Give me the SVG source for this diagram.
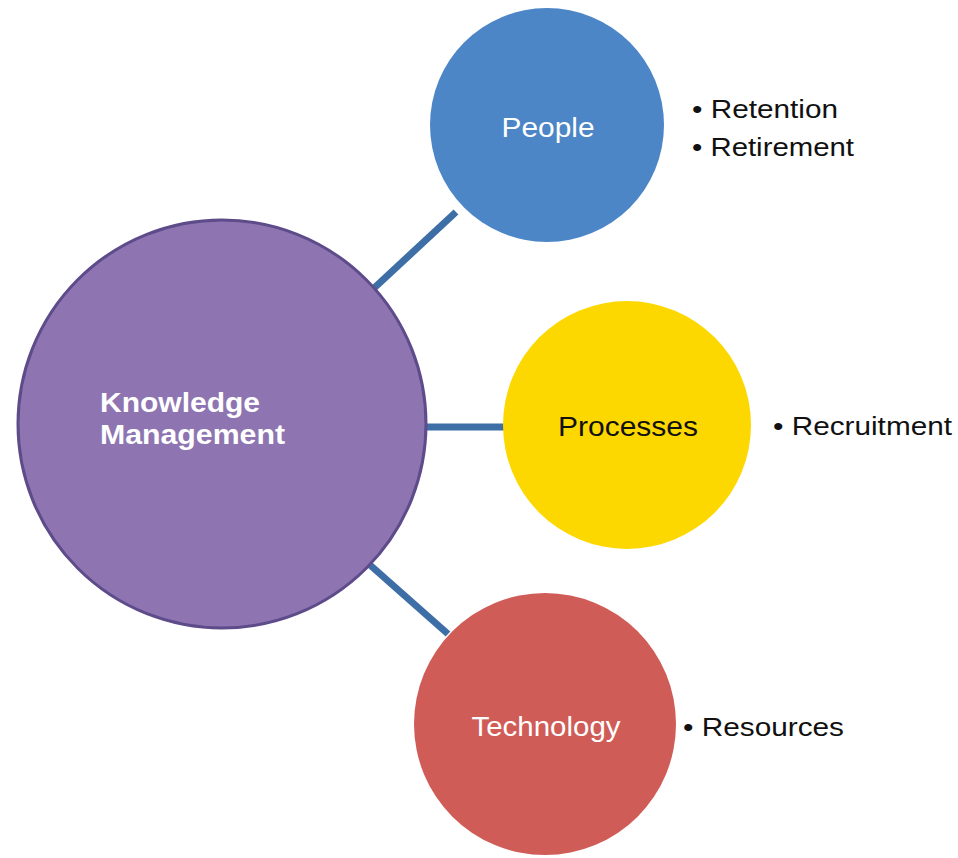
<svg xmlns="http://www.w3.org/2000/svg" width="958" height="858" viewBox="0 0 958 858">
<style>
.lbl{font-family:"Liberation Sans",Arial,sans-serif;font-size:28px;}
.bul{font-family:"Liberation Sans",Arial,sans-serif;font-size:26px;fill:#111;}
.conn{stroke:#3d6ea6;stroke-width:7;fill:none;}
</style>
<rect width="958" height="858" fill="#ffffff"/>
<g id="connectors">
<line class="conn" x1="372" y1="290" x2="456" y2="212"/>
<line class="conn" x1="425" y1="427" x2="506" y2="427"/>
<line class="conn" x1="370" y1="565" x2="448" y2="634"/>
</g>
<g id="km">
<circle cx="222" cy="424" r="204" fill="#8e75b2" stroke="#5d4b8a" stroke-width="3"/>
<text class="lbl" x="100" y="412" font-weight="bold" fill="#ffffff" textLength="160" lengthAdjust="spacingAndGlyphs">Knowledge</text>
<text class="lbl" x="100" y="444" font-weight="bold" fill="#ffffff" textLength="185" lengthAdjust="spacingAndGlyphs">Management</text>
</g>
<g id="people">
<circle cx="547" cy="125" r="117" fill="#4c86c7"/>
<text class="lbl" x="548" y="137" text-anchor="middle" fill="#ffffff" textLength="93" lengthAdjust="spacingAndGlyphs">People</text>
</g>
<g id="processes">
<circle cx="627" cy="425" r="124" fill="#fdd800"/>
<text class="lbl" x="628" y="436" text-anchor="middle" fill="#111111" textLength="140" lengthAdjust="spacingAndGlyphs">Processes</text>
</g>
<g id="technology">
<circle cx="545" cy="724" r="131" fill="#d05c57"/>
<text class="lbl" x="546" y="736" text-anchor="middle" fill="#ffffff" textLength="149" lengthAdjust="spacingAndGlyphs">Technology</text>
</g>
<g id="labels">
<text class="bul" x="692" y="118" textLength="146" lengthAdjust="spacingAndGlyphs">• Retention</text>
<text class="bul" x="692" y="156" textLength="162" lengthAdjust="spacingAndGlyphs">• Retirement</text>
<text class="bul" x="773" y="435" textLength="179" lengthAdjust="spacingAndGlyphs">• Recruitment</text>
<text class="bul" x="683" y="736" textLength="161" lengthAdjust="spacingAndGlyphs">• Resources</text>
</g>
</svg>
